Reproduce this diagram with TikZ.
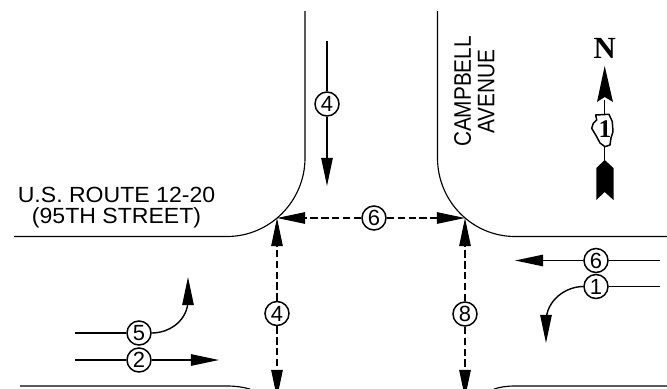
\documentclass[tikz,border=0pt]{standalone}
\usepackage{fontspec}
\setmainfont{Liberation Sans}
\newfontfamily\northfont{Liberation Serif}
\usetikzlibrary{arrows.meta}
\tikzset{
  curb/.style={line width=0.65pt},
  leg/.style={line width=0.8pt},
  flow/.style={leg,-{Triangle[length=16pt,width=6.5pt]}},
  gap/.style={leg,dash pattern=on 4.2pt off 2pt,-{Triangle[length=16pt,width=6.5pt]}},
  tag/.style={circle,draw,fill=white,line width=0.85pt,minimum size=0.48cm,inner sep=0pt,font=\fontsize{12.5}{12.5}\selectfont},
  street/.style={font=\fontsize{12.5}{12}\selectfont,align=center}
}
\begin{document}
\begin{tikzpicture}[x=0.02cm,y=-0.02cm]
  \useasboundingbox (0,0) rectangle (667,389);
  % curb lines
  \draw[curb] (305,11) -- (305,158) .. controls (305,201) and (270,236.5) .. (227,236.5) -- (14,236.5);
  \draw[curb] (437.5,11) -- (437.5,158) .. controls (437.5,201) and (472,236.5) .. (515,236.5) -- (667,236.5);
  \draw[curb] (20,386) -- (227,386) .. controls (235,386) and (243,387) .. (250,389);
  \draw[curb] (667,386) -- (515,386) .. controls (507,386) and (500,387) .. (494,389);

  \coordinate (nw) at (277,218);
  \coordinate (ne) at (465,218);
  \coordinate (sw) at (277,398);
  \coordinate (se) at (465,398);
  \node[tag] (westgap) at (277,313.5) {4};
  \node[tag] (eastgap) at (465,314) {8};
  \node[tag] (northgap) at (374,218) {6};
  \begin{scope}
    \clip (0,0) rectangle (667,389);
    \draw[gap] (westgap) -- (nw);
    \draw[gap] (westgap) -- (sw);
    \draw[gap] (eastgap) -- (ne);
    \draw[gap] (eastgap) -- (se);
  \end{scope}
  \draw[gap] (northgap) -- (nw);
  \draw[gap] (northgap) -- (ne);

  % movements
  \coordinate (a4) at (327,41);
  \coordinate (b4) at (327,186);
  \node[tag] (south) at (327,104) {4};
  \draw[leg] (a4) -- (south);
  \draw[flow] (south) -- (b4);

  \coordinate (a5) at (75,333);
  \coordinate (b5) at (188,277);
  \node[tag] (left) at (139,333) {5};
  \draw[leg] (a5) -- (left);
  \draw[flow] (left) .. controls (170,333) and (188,320) .. (188,300) -- (b5);

  \coordinate (a2) at (75,360);
  \coordinate (b2) at (219,360);
  \node[tag] (thru) at (139,360) {2};
  \draw[leg] (a2) -- (thru);
  \draw[flow] (thru) -- (b2);

  \coordinate (a6) at (660,260.5);
  \coordinate (b6) at (515,260.5);
  \node[tag] (west) at (596,260.5) {6};
  \draw[leg] (a6) -- (west);
  \draw[flow] (west) -- (b6);

  \coordinate (a1) at (660,286.5);
  \coordinate (b1) at (546,343);
  \node[tag] (right) at (596,286.5) {1};
  \draw[leg] (a1) -- (right);
  \draw[flow] (right) .. controls (566,286.5) and (546,300) .. (546,322) -- (b1);

  % street names
  \node[street,xscale=1.05] (route) at (116.5,207.5) {U.S. ROUTE 12-20\\(95TH STREET)};
  \node[street,rotate=90,xscale=0.87,font=\fontsize{13.6}{13.4}\selectfont] (campbell) at (474.5,91.5) {CAMPBELL\\AVENUE};

  % north arrow
  \node[font=\northfont\bfseries\fontsize{17.5}{17.5}\selectfont] (north) at (604.7,48) {N};
  \coordinate (top) at (604.7,66);
  \coordinate (low) at (604.7,165);
  \draw[line width=0.8pt] (low) -- (604.7,100);
  \fill (top) -- (613,102) -- (604.7,97) -- (597,102) -- cycle;
  \fill (604.7,160) -- (613.5,168) -- (613.5,200) -- (604.7,192) -- (596.3,200) -- (596.3,168) -- cycle;
  \draw[fill=white,line width=0.85pt,line join=round]
    (595.7,115) -- (609,114.3) -- (612.3,121.7) -- (613,131.7) -- (611,138) -- (610,145) -- (605,146.7) -- (600,143)
    -- (596.7,136.7) -- (591.7,128.3) -- (593.3,123.3) -- (596.7,120) -- cycle;
  \node[font=\northfont\bfseries\fontsize{14.5}{14.5}\selectfont,inner sep=0pt] (shield) at (605,129.5) {1};
\end{tikzpicture}
\end{document}
